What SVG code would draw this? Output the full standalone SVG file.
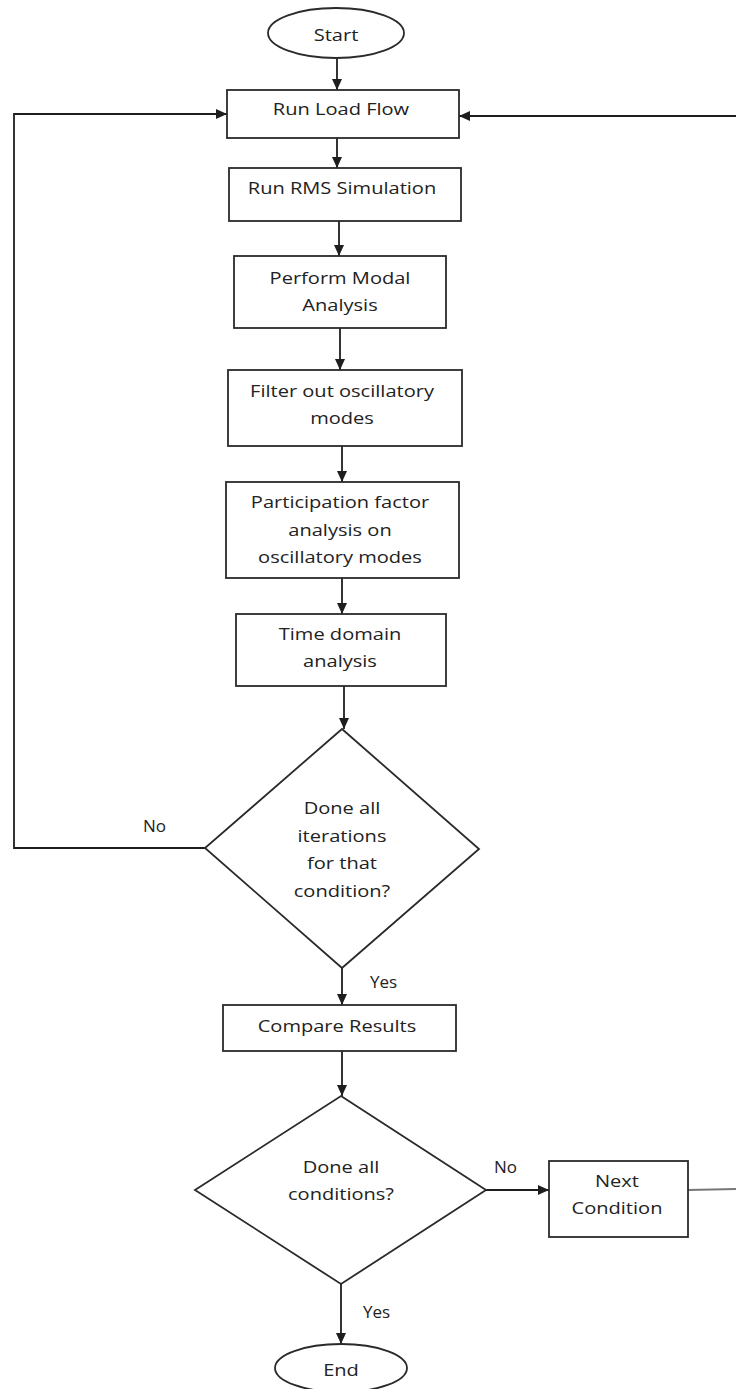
<svg xmlns="http://www.w3.org/2000/svg" width="736" height="1389" viewBox="0 0 736 1389">
  <style>
    .shape { fill: #ffffff; stroke: #2a2a2a; stroke-width: 1.8; }
    .edge { fill: none; stroke: #1e1e1e; stroke-width: 1.8; }
    .t { font-family: "Open Sans", "Noto Sans", "DejaVu Sans", sans-serif; font-size: 17px; fill: #222222; text-anchor: middle; }
    .lbl { font-family: "Open Sans", "Noto Sans", "DejaVu Sans", sans-serif; font-size: 17px; fill: #222222; }
  </style>
  <defs>
    <marker id="arrow" markerUnits="userSpaceOnUse" markerWidth="12" markerHeight="12" refX="11" refY="6" orient="auto">
      <path d="M0,1 L11,6 L0,11 Z" fill="#1e1e1e"/>
    </marker>
  </defs>

  <rect width="736" height="1389" fill="#ffffff"/>

  <!-- connectors -->
  <g id="connectors">
    <path class="edge" d="M337 58 V90" marker-end="url(#arrow)"/>
    <path class="edge" d="M337 138 V168" marker-end="url(#arrow)"/>
    <path class="edge" d="M339 221 V256" marker-end="url(#arrow)"/>
    <path class="edge" d="M340 328 V370" marker-end="url(#arrow)"/>
    <path class="edge" d="M342 446 V482" marker-end="url(#arrow)"/>
    <path class="edge" d="M342 578 V614" marker-end="url(#arrow)"/>
    <path class="edge" d="M344 686 V729" marker-end="url(#arrow)"/>
    <path class="edge" d="M342 968 V1005" marker-end="url(#arrow)"/>
    <path class="edge" d="M342 1051 V1096" marker-end="url(#arrow)"/>
    <path class="edge" d="M341 1284 V1344" marker-end="url(#arrow)"/>
    <path class="edge" d="M486 1190 H549" marker-end="url(#arrow)"/>
    <path class="edge" d="M688 1190 L736 1189" style="stroke:#777"/>
    <path class="edge" d="M736 116 H459" marker-end="url(#arrow)"/>
    <path class="edge" d="M205 848 H14 V114 H227" marker-end="url(#arrow)"/>
    <text class="lbl" x="143" y="832">No</text>
    <text class="lbl" x="370" y="988">Yes</text>
    <text class="lbl" x="494" y="1173">No</text>
    <text class="lbl" x="363" y="1318">Yes</text>
  </g>

  <g id="start">
    <ellipse class="shape" cx="336" cy="33" rx="68" ry="25"/>
    <text class="t" transform="translate(336 0) scale(1.18 1)" x="0" y="41">Start</text>
  </g>

  <g id="run-load-flow">
    <rect class="shape" x="227" y="90" width="232" height="48"/>
    <text class="t" transform="translate(341 0) scale(1.18 1)" x="0" y="115">Run Load Flow</text>
  </g>

  <g id="run-rms">
    <rect class="shape" x="229" y="168" width="232" height="53"/>
    <text class="t" transform="translate(342 0) scale(1.18 1)" x="0" y="194">Run RMS Simulation</text>
  </g>

  <g id="modal-analysis">
    <rect class="shape" x="234" y="256" width="212" height="72"/>
    <text class="t" transform="translate(340 0) scale(1.18 1)" x="0" y="284">Perform Modal</text>
    <text class="t" transform="translate(340 0) scale(1.18 1)" x="0" y="311">Analysis</text>
  </g>

  <g id="filter-modes">
    <rect class="shape" x="228" y="370" width="234" height="76"/>
    <text class="t" transform="translate(342 0) scale(1.18 1)" x="0" y="397">Filter out oscillatory</text>
    <text class="t" transform="translate(342 0) scale(1.18 1)" x="0" y="424">modes</text>
  </g>

  <g id="participation">
    <rect class="shape" x="226" y="482" width="233" height="96"/>
    <text class="t" transform="translate(340 0) scale(1.18 1)" x="0" y="508">Participation factor</text>
    <text class="t" transform="translate(340 0) scale(1.18 1)" x="0" y="536">analysis on</text>
    <text class="t" transform="translate(340 0) scale(1.18 1)" x="0" y="563">oscillatory modes</text>
  </g>

  <g id="time-domain">
    <rect class="shape" x="236" y="614" width="210" height="72"/>
    <text class="t" transform="translate(340 0) scale(1.18 1)" x="0" y="640">Time domain</text>
    <text class="t" transform="translate(340 0) scale(1.18 1)" x="0" y="667">analysis</text>
  </g>

  <g id="iterations-check">
    <polygon class="shape" points="342,729 479,849 342,968 205,848"/>
    <text class="t" transform="translate(342 0) scale(1.18 1)" x="0" y="814">Done all</text>
    <text class="t" transform="translate(342 0) scale(1.18 1)" x="0" y="842">iterations</text>
    <text class="t" transform="translate(342 0) scale(1.18 1)" x="0" y="869">for that</text>
    <text class="t" transform="translate(342 0) scale(1.18 1)" x="0" y="897">condition?</text>
  </g>

  <g id="compare-results">
    <rect class="shape" x="223" y="1005" width="233" height="46"/>
    <text class="t" transform="translate(337 0) scale(1.18 1)" x="0" y="1032">Compare Results</text>
  </g>

  <g id="conditions-check">
    <polygon class="shape" points="341,1096 486,1190 341,1284 195,1190"/>
    <text class="t" transform="translate(341 0) scale(1.18 1)" x="0" y="1173">Done all</text>
    <text class="t" transform="translate(341 0) scale(1.18 1)" x="0" y="1200">conditions?</text>
  </g>

  <g id="next-condition">
    <rect class="shape" x="549" y="1161" width="139" height="76"/>
    <text class="t" transform="translate(617 0) scale(1.18 1)" x="0" y="1187">Next</text>
    <text class="t" transform="translate(617 0) scale(1.18 1)" x="0" y="1214">Condition</text>
  </g>

  <g id="end">
    <ellipse class="shape" cx="341" cy="1368" rx="66" ry="24"/>
    <text class="t" transform="translate(341 0) scale(1.18 1)" x="0" y="1376">End</text>
  </g>
</svg>
